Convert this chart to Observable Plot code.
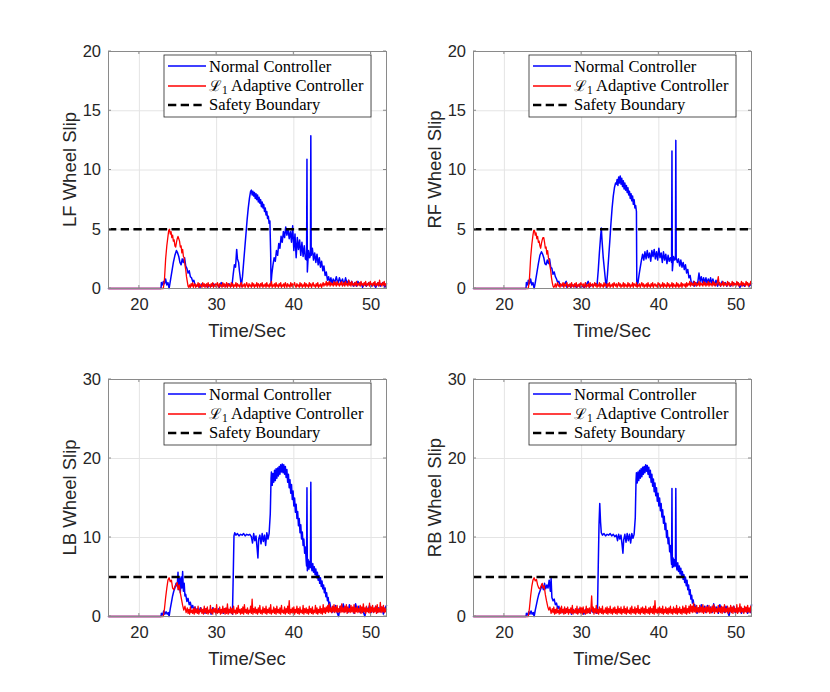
<!DOCTYPE html>
<html><head><meta charset="utf-8">
<script src="https://cdn.jsdelivr.net/npm/d3@7"></script>
<script src="https://cdn.jsdelivr.net/npm/@observablehq/plot@0.6"></script>
<style>
body{margin:0;background:#fff;}
#fig{position:relative;width:830px;height:692px;background:#fff;overflow:hidden;}
#fig svg{position:absolute;}
</style></head><body><div id="fig"></div>
<script>
// ---------- data ----------
const xTicks = [20, 30, 40, 50];
const topYTicks = [0, 5, 10, 15, 20];
const bottomYTicks = [0, 10, 20, 30];
const xLabel = "Time/Sec";
const yLabels = ["LF Wheel Slip", "RF Wheel Slip", "LB Wheel Slip", "RB Wheel Slip"];
const legendLabels = ["Normal Controller", "Adaptive Controller", "Safety Boundary"];
const safetyBoundary = 5;
const sampleStep = 0.1; // spacing of the densely sampled tail readings (s)

const lfNormal = [[16,0],[22.8,0],[22.85,0.5],[23.0,0.3],[23.1,0.6],[23.25,0.4],[23.4,0.8],[23.55,0.3],[23.7,0.5],[23.85,0],[24.0,0.6],[24.2,1.4],[24.4,2.2],[24.6,2.8],[24.8,3.2],[24.95,3.0],[25.1,2.7],[25.25,2.2],[25.4,2.0],[25.55,2.5],[25.7,2.2],[25.85,2.6],[26.0,1.9],[26.15,1.7],[26.3,1.3],[26.45,1.5],[26.6,1.0],[26.75,0.9],[26.9,0.6],[27.05,0.7],[27.2,0.3],[27.4,0.2],[27.6,0.3],[27.85,0.1],[28.1,0.4],[28.35,0.2],[28.6,0.3],[28.85,0.1],[29.1,0.3],[29.35,0.2],[29.6,0.4],[29.85,0.2],[30.1,0.3],[30.35,0.1],[30.6,0.5],[30.85,0.2],[31.1,0.3],[31.35,0.2],[31.6,0.4],[31.85,0.2],[32.0,0.3],[32.15,1.2],[32.3,2.0],[32.45,1.8],[32.6,3.3],[32.7,2.5],[32.85,2.2],[32.95,1.5],[33.05,1.0],[33.2,0.2],[33.35,1.0],[33.5,2.2],[33.65,3.4],[33.8,4.6],[33.95,5.8],[34.1,6.8],[34.25,7.6],[34.4,8.2],[34.5,8.3],[34.6,7.9],[34.7,8.2],[34.8,7.8],[34.9,8.1],[35.0,7.6],[35.1,8.0],[35.2,7.5],[35.3,7.9],[35.4,7.3],[35.5,7.7],[35.6,7.2],[35.7,7.5],[35.8,6.9],[35.9,7.3],[36.0,6.8],[36.1,7.1],[36.2,6.5],[36.3,6.8],[36.4,6.2],[36.5,6.5],[36.6,5.9],[36.7,6.1],[36.8,5.5],[36.9,5.7],[37.0,3.0],[37.05,0.4],[37.15,1.2],[37.3,2.0],[37.45,2.6],[37.6,2.3],[37.75,3.2],[37.9,2.8],[38.05,3.8],[38.2,3.4],[38.35,4.4],[38.5,3.9],[38.65,4.8],[38.8,4.3],[38.95,5.2],[39.1,4.5],[39.25,5.0],[39.4,4.2],[39.55,4.8],[39.7,3.9],[39.85,5.3],[40.0,3.2],[40.15,4.6],[40.3,2.6],[40.45,4.3],[40.6,3.3],[40.75,4.1],[40.9,2.8],[41.05,3.9],[41.2,2.7],[41.35,3.6],[41.5,2.5],[41.65,2.4],[41.7,10.9],[41.75,1.4],[41.9,3.2],[42.05,2.6],[42.15,2.8],[42.2,12.9],[42.25,2.8],[42.4,3.4],[42.55,2.4],[42.7,3.0],[42.85,2.2],[43.0,2.9],[43.15,2.0],[43.3,2.6],[43.45,1.8],[43.6,2.3],[43.75,1.5],[43.9,1.9],[44.05,1.1],[44.2,1.4],[44.35,0.7],[44.5,1.0],[44.65,0.5],[44.8,0.9],[44.95,0.4],[45.1,0.8],[45.3,0.5],[45.5,1.0],[45.7,0.4],[45.9,0.9],[46.1,0.5],[46.3,0.8],[46.5,0.3],[46.7,0.9],[46.9,0.4],[47.1,0.7],[47.3,0.3],[47.5,0.6],[47.7,0.2],[47.9,0.5],[48.1,0.2],[48.3,0.6],[48.5,0.3],[48.7,0.5],[48.9,0.1],[49.1,0.4],[49.4,0.2],[49.7,0.5],[50.0,0.2],[50.3,0.4],[50.6,0.1],[50.9,0.5],[51.2,0.2],[51.5,0.5],[51.8,0.1],[52,0.4]];

const lfAdaptiveRise = [[16,0],[23.1,0],[23.25,0.8],[23.4,2.5],[23.55,3.6],[23.7,4.4],[23.8,4.9],[23.9,5.0],[24.0,4.6],[24.1,4.8],[24.2,4.3],[24.3,4.5],[24.4,4.0],[24.5,4.1],[24.6,3.6],[24.7,3.5],[24.8,3.9],[24.9,4.2],[25.0,4.4],[25.1,4.2],[25.2,4.0],[25.3,3.5],[25.4,3.6],[25.5,3.0],[25.6,3.3],[25.7,2.7],[25.8,2.6],[25.9,2.0],[26.0,1.6],[26.1,1.0],[26.2,0.6],[26.3,0.2],[26.4,0.1]];
const lfAdaptiveTailStart = 26.5;
const lfAdaptiveTail = [
0.3,0.1,0.4,0.2,0.5,0.1,0.3,0.4,0.1,0.3, 0.2,0.5,0.1,0.4,0.2,0.3,0.1,0.5,0.2,0.4,
0.1,0.3,0.4,0.1,0.5,0.2,0.3,0.1,0.4,0.2, 0.5,0.1,0.3,0.2,0.4,0.1,0.5,0.3,0.1,0.4,
0.2,0.3,0.1,0.5,0.2,0.4,0.1,0.3,0.5,0.1, 0.4,0.2,0.3,0.1,0.5,0.2,0.4,0.1,0.3,0.2,
0.5,0.1,0.4,0.2,0.3,0.1,0.4,0.5,0.1,0.3, 0.2,0.4,0.1,0.3,0.5,0.2,0.1,0.4,0.2,0.3,
0.1,0.5,0.2,0.4,0.1,0.3,0.2,0.5,0.1,0.4, 0.3,0.1,0.4,0.2,0.5,0.1,0.3,0.2,0.4,0.1,
0.5,0.2,0.3,0.1,0.4,0.2,0.6,0.1,0.3,0.2, 0.4,0.1,0.5,0.2,0.3,0.1,0.4,0.2,0.5,0.1,
0.3,0.2,0.4,0.1,0.5,0.3,0.1,0.4,0.2,0.3, 0.1,0.5,0.2,0.4,0.1,0.3,0.5,0.2,0.1,0.4,
0.2,0.3,0.1,0.5,0.2,0.4,0.1,0.3,0.2,0.5, 0.1,0.4,0.2,0.3,0.1,0.5,0.2,0.4,0.1,0.3,
0.5,0.2,0.3,0.1,0.4,0.2,0.5,0.1,0.3,0.2, 0.4,0.1,0.3,0.5,0.2,0.4,0.3,0.6,0.2,0.5,
0.3,0.6,0.2,0.5,0.3,0.4,0.2,0.6,0.3,0.5, 0.2,0.6,0.3,0.4,0.2,0.5,0.3,0.6,0.2,0.4,
0.5,0.2,0.6,0.3,0.4,0.2,0.7,0.3,0.5,0.2, 0.6,0.3,0.4,0.2,0.5,0.3,0.6,0.2,0.4,0.3,
0.5,0.2,0.6,0.3,0.4,0.2,0.5,0.3,0.6,0.2, 0.4,0.3,0.5,0.2,0.6,0.3,0.4,0.2,0.5,0.3,
0.6,0.2,0.4,0.3,0.5,0.2,0.7,0.3,0.4,0.2, 0.5,0.3,0.6,0.2,0.4,0.3];

const rfNormal = [[16,0],[22.8,0],[22.85,0.5],[23.0,0.3],[23.1,0.7],[23.25,0.4],[23.4,0.8],[23.55,0.3],[23.7,0.5],[23.85,0],[24.0,0.5],[24.2,1.3],[24.4,2.1],[24.6,2.8],[24.8,3.1],[24.95,2.9],[25.1,2.6],[25.25,2.1],[25.4,2.0],[25.55,2.4],[25.7,2.1],[25.85,2.5],[26.0,1.8],[26.15,1.7],[26.3,1.2],[26.45,1.4],[26.6,1.0],[26.75,0.8],[26.9,0.5],[27.05,0.6],[27.2,0.3],[27.4,0.3],[27.6,0.2],[27.8,0.4],[28.0,0.6],[28.1,0.1],[28.35,0.3],[28.6,0.1],[28.85,0.3],[29.1,0.2],[29.35,0.1],[29.6,0.3],[29.85,0.1],[30.1,0.2],[30.35,0.1],[30.6,0.3],[30.85,0.6],[31.0,0.1],[31.25,0.3],[31.5,0.2],[31.75,0.4],[32.0,0.3],[32.15,1.5],[32.3,3.0],[32.45,4.3],[32.55,5.1],[32.65,4.0],[32.8,2.6],[32.95,1.6],[33.1,0.6],[33.2,0.1],[33.35,1.2],[33.5,2.6],[33.65,4.0],[33.8,5.5],[33.95,6.8],[34.1,7.8],[34.25,8.5],[34.4,8.9],[34.5,8.8],[34.6,9.2],[34.7,8.7],[34.8,9.4],[34.9,8.9],[35.0,9.5],[35.1,8.8],[35.2,9.3],[35.3,8.6],[35.4,9.1],[35.5,8.4],[35.6,8.9],[35.7,8.3],[35.8,8.7],[35.9,8.1],[36.0,8.5],[36.1,7.9],[36.2,8.2],[36.3,7.6],[36.4,8.0],[36.5,7.4],[36.6,7.8],[36.7,7.1],[36.8,7.5],[36.9,6.8],[37.0,7.0],[37.1,6.5],[37.15,0.2],[37.3,0.5],[37.45,1.2],[37.6,1.8],[37.75,2.4],[37.9,2.9],[38.05,2.4],[38.2,3.1],[38.35,2.5],[38.5,3.2],[38.65,2.6],[38.8,3.0],[38.95,2.3],[39.1,3.2],[39.25,2.7],[39.4,3.3],[39.55,2.5],[39.7,3.1],[39.85,2.4],[40.0,3.4],[40.15,2.6],[40.3,3.0],[40.45,2.2],[40.6,3.1],[40.75,2.4],[40.9,2.9],[41.05,2.1],[41.2,2.8],[41.35,2.3],[41.5,2.6],[41.65,2.2],[41.7,11.6],[41.75,1.5],[41.9,2.7],[42.05,2.4],[42.15,2.5],[42.2,12.5],[42.25,2.6],[42.4,2.2],[42.55,2.5],[42.7,1.9],[42.85,2.4],[43.0,1.8],[43.15,2.2],[43.3,1.6],[43.45,2.0],[43.6,1.3],[43.75,1.6],[43.9,0.9],[44.05,1.1],[44.2,0.5],[44.35,0.3],[44.5,0.6],[44.65,0.2],[44.8,0.5],[45.0,0.3],[45.2,1.3],[45.35,0.6],[45.5,1.0],[45.65,0.5],[45.8,0.9],[45.95,0.5],[46.1,0.9],[46.25,0.4],[46.4,0.8],[46.55,0.5],[46.7,0.9],[46.85,0.4],[47.0,0.8],[47.2,0.3],[47.4,0.7],[47.6,0.2],[47.8,0.5],[48.0,0.2],[48.2,0.6],[48.4,0.3],[48.6,0.5],[48.8,0.2],[49.0,0.5],[49.3,0.2],[49.6,0.5],[49.9,0.3],[50.2,0.5],[50.5,0.1],[50.8,0.4],[51.1,0.2],[51.4,0.5],[51.7,0.2],[52,0.4]];

const rfAdaptiveRise = [[16,0],[23.1,0],[23.25,0.9],[23.4,2.6],[23.55,3.7],[23.7,4.5],[23.8,4.9],[23.9,4.9],[24.0,4.5],[24.1,4.7],[24.2,4.2],[24.3,4.4],[24.4,3.9],[24.5,4.0],[24.6,3.6],[24.7,3.4],[24.8,3.8],[24.9,4.1],[25.0,4.3],[25.1,4.3],[25.2,3.9],[25.3,3.4],[25.4,3.5],[25.5,2.9],[25.6,3.2],[25.7,2.6],[25.8,2.4],[25.9,1.9],[26.0,1.5],[26.1,0.9],[26.2,0.5],[26.3,0.2],[26.4,0.1]];
const rfAdaptiveTailStart = 26.5;
const rfAdaptiveTail = [
0.2,0.4,0.1,0.3,0.5,0.2,0.3,0.1,0.4,0.2, 0.3,0.5,0.1,0.4,0.2,0.3,0.5,0.1,0.3,0.2,
0.4,0.1,0.5,0.2,0.3,0.1,0.4,0.2,0.5,0.1, 0.3,0.2,0.4,0.1,0.5,0.3,0.2,0.4,0.1,0.3,
0.5,0.1,0.3,0.2,0.4,0.1,0.5,0.2,0.3,0.4, 0.1,0.3,0.5,0.2,0.4,0.1,0.3,0.2,0.5,0.1,
0.4,0.2,0.3,0.1,0.5,0.2,0.4,0.3,0.1,0.4, 0.2,0.5,0.1,0.3,0.2,0.4,0.1,0.5,0.3,0.2,
0.4,0.1,0.3,0.5,0.2,0.4,0.1,0.3,0.2,0.5, 0.1,0.4,0.2,0.3,0.1,0.5,0.2,0.4,0.1,0.3,
0.2,0.5,0.1,0.4,0.3,0.2,0.5,0.1,0.3,0.2, 0.4,0.1,0.3,0.5,0.2,0.4,0.1,0.3,0.2,0.4,
0.1,0.5,0.2,0.3,0.1,0.4,0.2,0.5,0.1,0.3, 0.4,0.2,0.3,0.1,0.5,0.2,0.4,0.1,0.3,0.2,
0.5,0.1,0.4,0.2,0.3,0.1,0.5,0.2,0.4,0.1, 0.3,0.2,0.5,0.1,0.4,0.2,0.3,0.1,0.5,0.2,
0.4,0.1,0.3,0.2,0.5,0.1,0.4,0.3,0.2,0.4, 0.1,0.5,0.2,0.4,0.3,0.6,0.2,0.5,0.3,0.4,
0.2,0.6,0.3,0.5,0.2,0.4,0.3,0.6,0.2,0.5, 0.3,0.4,0.2,0.6,0.3,0.5,0.2,0.4,0.3,0.6,
0.2,0.5,0.3,0.4,0.2,0.6,0.3,0.5,0.2,0.4, 0.3,0.6,1.0,0.3,0.5,0.2,0.4,0.3,0.6,0.2,
0.5,0.3,0.4,0.2,0.6,0.3,0.5,0.2,0.4,0.3, 0.6,0.2,0.5,0.3,0.4,0.2,0.6,0.3,0.5,0.2,
0.4,0.3,0.6,0.2,0.5,0.3,0.4,0.2,0.6,0.3, 0.5,0.2,0.4,0.3,0.6,0.4];

const lbNormal = [[16,0],[22.8,0],[22.85,0.4],[23.0,0.2],[23.15,0.7],[23.3,0.3],[23.45,0.6],[23.6,0.3],[23.75,0.5],[23.85,0],[24.0,1.0],[24.15,1.8],[24.3,2.6],[24.45,3.2],[24.6,3.6],[24.75,4.2],[24.9,3.8],[25.0,5.6],[25.1,3.4],[25.2,4.8],[25.3,3.0],[25.4,5.0],[25.5,3.6],[25.6,5.7],[25.7,3.2],[25.8,4.2],[25.9,2.6],[26.0,2.8],[26.15,1.9],[26.3,2.3],[26.45,1.5],[26.6,1.8],[26.75,1.1],[26.9,1.4],[27.05,0.8],[27.2,1.2],[27.35,0.6],[27.5,1.0],[27.7,0.5],[27.9,1.1],[28.1,0.6],[28.3,0.9],[28.5,0.4],[28.7,1.0],[28.9,0.6],[29.1,0.8],[29.3,0.3],[29.5,1.1],[29.7,0.6],[29.9,0.9],[30.1,0.5],[30.3,1.0],[30.5,0.6],[30.7,0.8],[30.9,0.4],[31.1,1.0],[31.3,0.6],[31.5,0.9],[31.7,0.5],[31.9,0.8],[32.05,0.3],[32.15,5.0],[32.25,10.2],[32.35,10.6],[32.5,10.3],[32.7,10.5],[32.9,10.2],[33.1,10.4],[33.3,10.3],[33.5,10.5],[33.7,10.2],[33.9,10.4],[34.1,10.3],[34.3,10.4],[34.5,10.1],[34.65,9.3],[34.8,10.5],[34.95,9.6],[35.1,10.2],[35.25,8.6],[35.35,7.4],[35.45,9.8],[35.6,10.3],[35.75,9.2],[35.9,10.5],[36.05,9.5],[36.2,10.3],[36.35,9.0],[36.5,10.6],[36.65,9.8],[36.8,10.5],[36.95,13.0],[37.05,17.5],[37.1,18.3],[37.2,16.6],[37.3,18.1],[37.4,17.0],[37.5,18.5],[37.6,17.2],[37.7,18.7],[37.8,17.5],[37.9,18.8],[38.0,17.8],[38.1,19.0],[38.2,18.0],[38.3,19.2],[38.4,18.3],[38.5,19.3],[38.6,18.2],[38.7,19.2],[38.8,18.0],[38.9,19.0],[39.0,17.6],[39.1,18.6],[39.2,17.0],[39.3,18.0],[39.4,16.3],[39.5,17.3],[39.6,15.6],[39.7,16.7],[39.8,14.8],[39.9,15.9],[40.0,14.0],[40.1,15.0],[40.2,13.2],[40.3,14.2],[40.4,12.4],[40.5,13.3],[40.6,11.5],[40.7,12.4],[40.8,10.6],[40.9,11.6],[41.0,9.8],[41.1,10.7],[41.2,9.0],[41.3,9.8],[41.4,8.0],[41.5,8.8],[41.6,7.0],[41.65,6.4],[41.7,16.3],[41.75,5.8],[41.85,7.2],[41.95,6.0],[42.05,7.0],[42.15,6.2],[42.2,17.0],[42.25,6.5],[42.35,5.8],[42.45,6.7],[42.55,5.6],[42.65,6.3],[42.75,5.3],[42.85,6.0],[42.95,4.9],[43.05,5.6],[43.15,4.6],[43.25,5.2],[43.35,4.2],[43.45,4.9],[43.55,3.8],[43.65,4.5],[43.75,3.5],[43.85,4.0],[43.95,3.0],[44.05,3.6],[44.15,2.5],[44.25,3.0],[44.35,2.0],[44.45,2.4],[44.55,1.4],[44.65,1.8],[44.8,1.0],[44.95,0.5],[45.1,1.2],[45.25,0.6],[45.4,1.4],[45.6,0.5],[45.8,0.0],[46.0,1.3],[46.2,0.7],[46.4,1.6],[46.6,0.6],[46.8,1.2],[47.0,0.5],[47.2,1.5],[47.4,0.7],[47.6,1.1],[47.8,0.4],[48.0,1.6],[48.2,0.8],[48.4,1.3],[48.6,0.5],[48.8,1.1],[49.0,0.6],[49.2,0.0],[49.4,1.2],[49.6,0.7],[49.8,1.4],[50.0,0.5],[50.2,1.0],[50.4,0.6],[50.6,1.3],[50.8,0.5],[51.0,1.1],[51.2,0.6],[51.4,1.2],[51.6,0.3],[51.8,1.0],[52,1.4]];

const lbAdaptiveRise = [[16,0],[23.1,0],[23.25,1.0],[23.4,2.4],[23.55,3.6],[23.7,4.6],[23.85,4.9],[24.0,4.4],[24.15,4.6],[24.3,3.6],[24.45,3.4],[24.6,3.8],[24.75,4.0],[24.9,4.3],[25.0,3.4],[25.15,4.0],[25.3,3.0],[25.45,2.2],[25.6,1.4],[25.75,0.8],[25.9,1.3],[26.05,0.5]];
const lbAdaptiveTailStart = 26.2;
const lbAdaptiveTail = [
1.1,0.4,0.9,0.3,1.2,0.5,0.8,0.4,1.0,0.3, 1.2,0.5,0.9,0.4,1.3,0.3,0.8,0.6,1.1,0.4,
0.9,0.3,1.3,0.5,1.0,0.4,1.2,0.3,0.8,0.5, 1.4,0.4,0.9,0.3,1.1,0.6,1.0,0.3,1.5,0.4,
0.8,0.5,1.2,0.3,0.9,0.4,1.3,0.5,1.0,0.3, 1.1,0.4,1.6,0.3,0.9,0.5,1.2,0.4,1.0,0.3,
1.3,0.5,0.8,0.3,1.1,0.4,1.4,0.5,0.9,0.3, 1.0,0.4,1.2,0.3,1.5,0.5,0.9,0.4,1.1,0.3,
0.8,0.5,1.3,0.4,2.2,0.3,1.0,0.5,1.2,0.4, 0.9,0.3,1.1,0.5,1.4,0.4,0.8,0.3,1.2,0.5,
1.0,0.4,1.3,0.3,0.9,0.5,1.1,0.4,1.5,0.3, 0.8,0.5,1.2,0.4,1.0,0.3,1.3,0.5,0.9,0.4,
1.1,0.3,1.4,0.5,0.8,0.4,1.2,0.3,1.0,0.5, 1.3,0.4,2.0,0.3,0.9,0.5,1.1,0.4,1.2,0.3,
0.9,0.5,1.3,0.4,1.0,0.3,1.2,0.5,0.8,0.4, 1.4,0.3,1.0,0.5,1.1,0.4,0.9,0.3,1.3,0.5,
1.0,0.4,1.2,0.3,0.8,0.5,1.4,0.4,1.1,0.3, 0.9,0.5,1.3,0.4,1.0,0.3,1.5,0.5,1.1,0.4,
1.2,0.6,1.4,0.5,1.6,0.6,1.1,0.5,1.3,0.6, 1.5,0.5,1.2,0.6,1.4,0.5,1.0,0.6,1.3,0.5,
1.6,0.6,1.1,0.5,1.3,0.6,1.5,0.4,1.2,0.6, 1.0,0.5,1.4,0.6,1.2,0.5,1.5,0.4,1.1,0.6,
1.3,0.5,1.0,0.6,1.4,0.4,1.2,0.5,1.6,0.6, 1.1,0.4,1.3,0.6,1.0,0.5,1.7,0.4,1.2,0.6,
1.4,0.5,1.1,0.6,1.3,0.4,1.5,0.5,1.0,0.6, 1.8,0.5,1.2,0.6,1.4,0.5,1.1,0.6,0.9];

const rbNormal = [[16,0],[22.8,0],[22.85,0.4],[23.0,0.2],[23.15,0.6],[23.3,0.3],[23.45,0.7],[23.6,0.3],[23.75,0.5],[23.85,0],[24.0,0.8],[24.15,1.5],[24.3,2.2],[24.45,2.8],[24.6,3.2],[24.75,3.6],[24.9,4.0],[25.05,3.4],[25.2,4.2],[25.35,3.5],[25.5,4.0],[25.65,3.6],[25.8,4.6],[25.95,3.2],[26.05,4.8],[26.15,2.4],[26.3,2.0],[26.45,2.2],[26.6,1.5],[26.75,1.7],[26.9,1.0],[27.05,1.3],[27.2,0.7],[27.35,1.0],[27.5,0.5],[27.7,0.9],[27.9,0.4],[28.1,1.0],[28.3,0.5],[28.5,0.8],[28.7,0.3],[28.9,0.9],[29.1,0.5],[29.3,0.8],[29.5,0.4],[29.7,1.0],[29.9,0.5],[30.1,0.8],[30.3,0.3],[30.5,0.9],[30.7,0.5],[30.9,0.8],[31.1,0.4],[31.3,0.9],[31.5,0.5],[31.7,0.8],[31.9,0.4],[32.05,0.5],[32.15,6.0],[32.25,11.5],[32.35,14.3],[32.45,12.0],[32.55,10.6],[32.7,10.3],[32.9,10.5],[33.1,10.2],[33.3,10.4],[33.5,10.3],[33.7,10.5],[33.9,10.2],[34.1,10.4],[34.3,10.1],[34.5,10.3],[34.65,9.6],[34.8,10.4],[34.95,9.8],[35.1,10.3],[35.25,9.0],[35.35,8.0],[35.45,9.7],[35.6,10.4],[35.75,9.4],[35.9,10.5],[36.05,9.6],[36.2,10.4],[36.35,9.3],[36.5,10.5],[36.65,9.9],[36.8,10.4],[36.95,12.5],[37.05,17.3],[37.1,18.2],[37.2,16.9],[37.3,18.3],[37.4,17.2],[37.5,18.5],[37.6,17.5],[37.7,18.7],[37.8,17.7],[37.9,18.9],[38.0,18.0],[38.1,19.0],[38.2,18.2],[38.3,19.2],[38.4,18.4],[38.5,19.1],[38.6,18.0],[38.7,18.9],[38.8,17.6],[38.9,18.5],[39.0,17.0],[39.1,18.0],[39.2,16.5],[39.3,17.4],[39.4,15.8],[39.5,16.9],[39.6,15.3],[39.7,16.3],[39.8,14.6],[39.9,15.6],[40.0,14.0],[40.1,15.0],[40.2,13.4],[40.3,14.3],[40.4,12.6],[40.5,13.5],[40.6,11.8],[40.7,12.7],[40.8,11.0],[40.9,11.8],[41.0,10.0],[41.1,10.9],[41.2,9.2],[41.3,10.0],[41.4,8.2],[41.5,9.0],[41.6,7.2],[41.65,6.6],[41.7,16.2],[41.75,6.2],[41.85,7.4],[41.95,6.3],[42.05,7.2],[42.15,6.4],[42.2,16.2],[42.25,6.6],[42.35,5.9],[42.45,6.8],[42.55,5.7],[42.65,6.4],[42.75,5.4],[42.85,6.1],[42.95,5.0],[43.05,5.7],[43.15,4.7],[43.25,5.3],[43.35,4.3],[43.45,5.0],[43.55,3.9],[43.65,4.6],[43.75,3.4],[43.85,4.0],[43.95,2.8],[44.05,3.4],[44.15,2.2],[44.25,2.7],[44.35,1.7],[44.45,2.1],[44.55,1.2],[44.65,1.5],[44.8,0.9],[44.95,0.4],[45.1,1.1],[45.3,0.6],[45.5,1.5],[45.7,0.7],[45.9,1.3],[46.1,0.5],[46.3,1.4],[46.5,0.8],[46.7,1.2],[46.9,0.5],[47.1,1.6],[47.3,0.7],[47.5,1.2],[47.7,0.4],[47.9,1.5],[48.1,0.8],[48.3,1.1],[48.5,0.5],[48.7,1.3],[48.9,0.6],[49.1,0.1],[49.3,1.1],[49.5,0.7],[49.7,1.3],[49.9,0.5],[50.1,1.0],[50.3,0.6],[50.5,1.2],[50.7,0.4],[50.9,1.0],[51.1,0.6],[51.3,1.1],[51.5,0.4],[51.7,0.9],[51.9,0.5],[52,1.5]];

const rbAdaptiveRise = [[16,0],[23.1,0],[23.25,1.1],[23.4,2.6],[23.55,3.8],[23.7,4.6],[23.85,4.9],[24.0,4.5],[24.15,4.7],[24.3,4.0],[24.45,3.6],[24.6,3.5],[24.75,3.9],[24.9,4.2],[25.0,3.6],[25.15,3.9],[25.3,2.8],[25.45,2.0],[25.6,1.3],[25.75,0.8],[25.9,1.2],[26.05,0.4]];
const rbAdaptiveTailStart = 26.2;
const rbAdaptiveTail = [
1.0,0.5,1.2,0.3,0.9,0.4,1.1,0.5,0.8,0.3, 1.1,0.4,1.3,0.5,0.9,0.3,1.2,0.4,1.0,0.5,
1.2,0.3,0.9,0.5,1.1,0.4,1.4,0.3,0.8,0.5, 1.0,0.4,1.3,0.3,0.9,0.5,1.2,0.4,1.1,0.3,
1.2,0.5,0.8,0.3,1.3,0.4,1.0,0.5,1.1,0.4, 0.9,2.6,0.6,1.2,0.3,1.0,0.5,1.4,0.4,0.9,
0.3,1.2,0.5,1.0,0.4,1.3,0.3,0.8,0.5,1.1, 0.4,1.2,0.3,1.0,0.5,1.3,0.4,0.9,0.3,1.1,
0.5,1.2,0.4,0.9,0.3,1.3,0.5,1.0,0.4,1.2, 0.3,0.9,0.5,1.3,0.4,1.0,0.3,1.2,0.5,0.8,
0.4,1.1,0.3,1.3,0.5,0.9,0.4,1.2,0.3,1.0, 0.5,1.4,0.4,0.9,0.3,1.1,0.5,1.2,0.4,1.0,
0.3,1.3,0.5,0.9,0.4,1.1,0.3,1.2,0.5,1.0, 0.4,1.3,0.3,2.0,0.5,0.9,0.4,1.1,0.3,1.2,
0.5,1.0,0.4,1.3,0.3,0.9,0.5,1.2,0.4,1.0, 0.3,1.1,0.5,1.3,0.4,0.9,0.3,1.2,0.5,1.0,
0.4,1.4,0.3,1.0,0.5,1.2,0.4,0.9,0.3,1.3, 0.5,1.1,0.4,1.4,0.3,1.0,0.5,1.3,0.4,1.5,
0.6,1.3,0.5,1.7,0.6,1.2,0.5,1.4,0.6,1.1, 0.5,1.4,0.6,1.2,0.5,1.5,0.4,1.1,0.6,1.3,
0.5,1.2,0.6,1.4,0.4,1.1,0.5,1.3,0.6,1.5, 0.4,1.2,0.6,1.0,0.5,1.4,0.6,1.1,0.5,1.3,
0.4,1.2,0.6,1.5,0.5,1.0,0.6,1.3,0.4,1.1, 0.6,1.4,0.5,1.2,0.4,1.3,0.6,1.0,0.5,1.5,
0.4,1.1,0.6,1.6,0.5,1.2,0.6,1.0,0.4,1.3, 0.6,1.2,0.5,1.4,0.6,1.1,0.5,1.3,0.8];

// ---------- drawing ----------
const fig = document.getElementById("fig");
const W = 415, H = 346;
const M = {left: 108, right: 29, top: 51, bottom: 58};
const toObj = a => a.map(([t, v]) => ({t, v}));
const withTail = (rise, start, tail) =>
  rise.concat(tail.map((v, i) => [+(start + i * sampleStep).toFixed(2), v]));

const panels = [
  {label: yLabels[0], normal: lfNormal, adaptive: withTail(lfAdaptiveRise, lfAdaptiveTailStart, lfAdaptiveTail), yMax: 20, yTicks: topYTicks, left: 0, top: 0},
  {label: yLabels[1], normal: rfNormal, adaptive: withTail(rfAdaptiveRise, rfAdaptiveTailStart, rfAdaptiveTail), yMax: 20, yTicks: topYTicks, left: 365, top: 0},
  {label: yLabels[2], normal: lbNormal, adaptive: withTail(lbAdaptiveRise, lbAdaptiveTailStart, lbAdaptiveTail), yMax: 30, yTicks: bottomYTicks, left: 0, top: 328},
  {label: yLabels[3], normal: rbNormal, adaptive: withTail(rbAdaptiveRise, rbAdaptiveTailStart, rbAdaptiveTail), yMax: 30, yTicks: bottomYTicks, left: 365, top: 328}
];

const BLUE = "#0000ff", RED = "#ff0000";
const FRAME = "#8a8a8a";

for (const p of panels) {
  const chart = Plot.plot({
    width: W, height: H,
    marginLeft: M.left, marginRight: M.right, marginTop: M.top, marginBottom: M.bottom,
    style: {fontFamily: "'Liberation Sans', Arial, Helvetica, sans-serif", fontSize: "16.5px", color: "#262626", background: "transparent", overflow: "visible"},
    x: {domain: [16, 52]},
    y: {domain: [0, p.yMax]},
    marks: [
      Plot.gridX(xTicks, {stroke: "#e4e4e4", strokeOpacity: 1, strokeWidth: 1}),
      Plot.gridY(p.yTicks, {stroke: "#e4e4e4", strokeOpacity: 1, strokeWidth: 1}),
      Plot.axisX(xTicks, {tickSize: 0, tickPadding: 9.5, label: null, tickFormat: d => String(d)}),
      Plot.axisY(p.yTicks, {tickSize: 0, tickPadding: 7.5, label: null, tickFormat: d => String(d)}),
      Plot.line(toObj(p.normal), {x: "t", y: "v", stroke: BLUE, strokeWidth: 1.5, curve: "linear"}),
      Plot.line(toObj(p.adaptive), {x: "t", y: "v", stroke: RED, strokeWidth: 1.3, curve: "linear"}),
      Plot.ruleY([safetyBoundary], {stroke: "#000", strokeWidth: 2.6, strokeDasharray: "8.3,4.4"}),
      Plot.frame({stroke: FRAME, strokeWidth: 1})
    ]
  });
  chart.style.left = p.left + "px";
  chart.style.top = p.top + "px";
  const svg = d3.select(chart);
  const sx = chart.scale("x"), sy = chart.scale("y");
  const x0 = M.left, x1 = W - M.right, y0 = M.top, y1 = H - M.bottom;

  // inward ticks (MATLAB style, box on)
  const tk = svg.append("g").attr("stroke", FRAME).attr("stroke-width", 1);
  for (const v of xTicks) {
    const x = sx.apply(v);
    tk.append("line").attr("x1", x).attr("x2", x).attr("y1", y1).attr("y2", y1 - 3);
    tk.append("line").attr("x1", x).attr("x2", x).attr("y1", y0).attr("y2", y0 + 3);
  }
  for (const v of p.yTicks) {
    const y = sy.apply(v);
    tk.append("line").attr("x1", x0).attr("x2", x0 + 3).attr("y1", y).attr("y2", y);
    tk.append("line").attr("x1", x1).attr("x2", x1 - 3).attr("y1", y).attr("y2", y);
  }

  // axis labels
  svg.append("text").attr("x", (x0 + x1) / 2).attr("y", 336.5)
    .attr("text-anchor", "middle").attr("fill", "#262626")
    .style("font-size", "18.5px").text(xLabel);
  svg.append("text").attr("transform", `translate(76,${(y0 + y1) / 2}) rotate(-90)`)
    .attr("text-anchor", "middle").attr("fill", "#262626")
    .style("font-size", "18.5px").text(p.label);

  // legend
  const lx = x0 + 56, ly = y0 + 4;
  const lg = svg.append("g").attr("text-anchor", "start");
  lg.append("rect").attr("x", lx).attr("y", ly).attr("width", 207).attr("height", 62)
    .attr("fill", "#fff").attr("stroke", "#262626").attr("stroke-width", 0.8);
  const rows = [
    {stroke: BLUE, w: 1.5, dash: null, ty: 16.7, my: 11},
    {stroke: RED, w: 1.3, dash: null, ty: 35.7, my: 31},
    {stroke: "#000", w: 2.6, dash: "8.3,4.4", ty: 55, my: 50}
  ];
  rows.forEach((r, i) => {
    const ln = lg.append("line").attr("x1", lx + 4).attr("x2", lx + 42)
      .attr("y1", ly + r.my).attr("y2", ly + r.my)
      .attr("stroke", r.stroke).attr("stroke-width", r.w);
    if (r.dash) ln.attr("stroke-dasharray", r.dash);
    const t = lg.append("text").attr("x", lx + 45).attr("y", ly + r.ty)
      .attr("text-anchor", "start").attr("fill", "#000")
      .style("font-family", "'Liberation Serif', 'DejaVu Serif', serif")
      .style("font-size", "16.5px");
    if (i === 1) {
      t.append("tspan").style("font-family", "'DejaVu Serif', serif").style("font-size", "15px").text("\u2112");
      t.append("tspan").attr("dy", 3.5).style("font-size", "11.5px").text("1");
      t.append("tspan").attr("dy", -3.5).text(" " + legendLabels[i]);
    } else {
      t.text(legendLabels[i]);
    }
  });

  fig.appendChild(chart);
}
</script>
</body></html>
